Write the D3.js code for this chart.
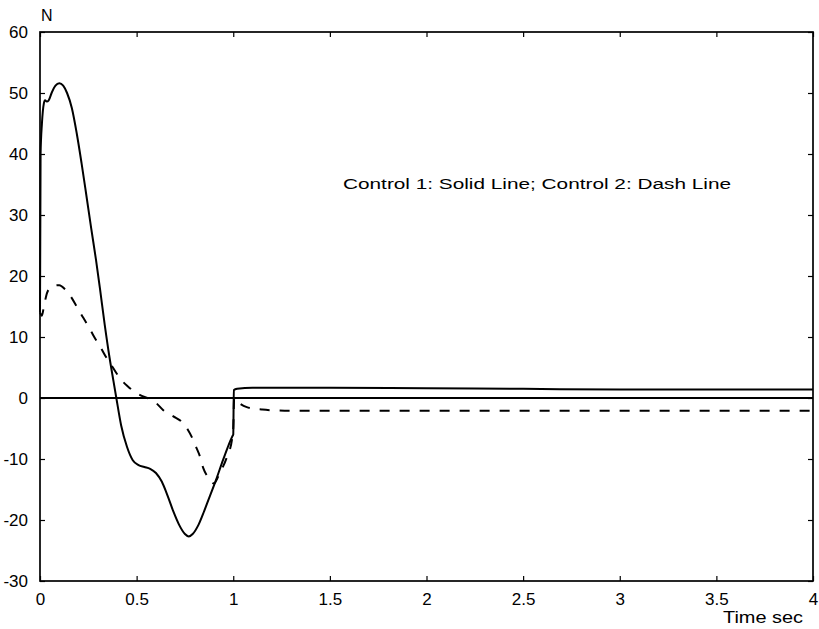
<!DOCTYPE html>
<html><head><meta charset="utf-8">
<script src="https://cdn.jsdelivr.net/npm/d3@7"></script>
<style>body{margin:0;background:#fff}svg{display:block}text{font-family:"Liberation Sans",Arial,sans-serif;fill:#000}</style>
</head><body><svg id="c" width="819" height="629"></svg>
<script>
const xTicks = [0,0.5,1,1.5,2,2.5,3,3.5,4];
const xTickLabels = ["0","0.5","1","1.5","2","2.5","3","3.5","4"];
const yTicks = [-30,-20,-10,0,10,20,30,40,50,60];
const yTickLabels = ["-30","-20","-10","0","10","20","30","40","50","60"];
const solidT = [0,0.003,0.01,0.02,0.026,0.035,0.045,0.06,0.08,0.1,0.12,0.14,0.165,0.19,0.215,0.24,0.265,0.29,0.31,0.335,0.36,0.38,0.395,0.42,0.45,0.48,0.51,0.54,0.57,0.6,0.63,0.66,0.69,0.72,0.75,0.77,0.79,0.82,0.85,0.88,0.91,0.94,0.97,0.995,1.0,1.003,1.02,1.1,1.5,2,2.5,3,3.5,4];
const solidV = [14,40,45,48.3,48.8,48.6,48.8,50,51.2,51.6,51.2,50,47.5,43.4,38.5,33.2,27.8,22.6,18,12,6.6,2.8,0,-4.5,-8,-10.2,-11,-11.3,-11.6,-12.3,-13.7,-16,-18.6,-20.8,-22.3,-22.7,-22.3,-20.8,-18.5,-16,-13.5,-10.8,-8.2,-6.3,-6,1.3,1.5,1.7,1.7,1.6,1.5,1.4,1.4,1.4];
const dashT = [0,0.01,0.02,0.04,0.07,0.1,0.13,0.16,0.19,0.21,0.24,0.265,0.29,0.317,0.34,0.369,0.395,0.42,0.455,0.49,0.53,0.57,0.6,0.638,0.69,0.733,0.765,0.793,0.81,0.828,0.845,0.87,0.9,0.93,0.966,0.995,1.0,1.005,1.03,1.07,1.15,1.3,2,3,4];
const dashV = [14,13.5,15,17.5,18.4,18.5,17.8,16.6,15,13.9,12.3,10.9,9.5,8.1,6.8,5.4,4.1,3,1.9,1.0,0.3,-0.2,-0.8,-2,-3,-3.9,-5.2,-6.9,-8.2,-9.6,-11.5,-13,-14,-12.3,-9.8,-6.5,-5,0,-0.8,-1.5,-1.9,-2.1,-2.1,-2.1,-2.1];
const annotation = "Control 1: Solid Line; Control 2: Dash Line";
const xTitle = "Time sec";
const yTitle = "N";

const L=40,R=813,T=32,B=581;
const svg=d3.select("#c");
const x=d3.scaleLinear().domain([0,4]).range([L,R]);
const y=d3.scaleLinear().domain([-30,60]).range([B,T]);

const fs=17;
svg.append("g").attr("transform",`translate(0,${B})`)
  .call(d3.axisBottom(x).tickValues(xTicks).tickSize(-5).tickFormat((d,i)=>xTickLabels[i]).tickPadding(12))
  .call(g=>{g.select(".domain").remove();g.selectAll("text").attr("font-size",fs).attr("font-family",null);});
svg.append("g").attr("transform",`translate(0,${T})`)
  .call(d3.axisTop(x).tickValues(xTicks).tickSize(-5).tickFormat(""))
  .call(g=>g.select(".domain").remove());
svg.append("g").attr("transform",`translate(${L},0)`)
  .call(d3.axisLeft(y).tickValues(yTicks).tickSize(-5).tickFormat((d,i)=>yTickLabels[i]).tickPadding(12))
  .call(g=>{g.select(".domain").remove();g.selectAll("text").attr("font-size",fs).attr("font-family",null);});
svg.append("g").attr("transform",`translate(${R},0)`)
  .call(d3.axisRight(y).tickValues(yTicks).tickSize(-5).tickFormat(""))
  .call(g=>g.select(".domain").remove());
svg.selectAll(".tick line").attr("stroke","#000").attr("stroke-width",1.2);

svg.append("rect").attr("x",L).attr("y",T).attr("width",R-L).attr("height",B-T)
  .attr("fill","none").attr("stroke","#000").attr("stroke-width",1.7);

svg.append("line").attr("x1",x(0)).attr("x2",x(4)).attr("y1",y(0)).attr("y2",y(0))
  .attr("stroke","#000").attr("stroke-width",1.8);

const line=d3.line().x(d=>x(d[0])).y(d=>y(d[1])).curve(d3.curveMonotoneX);
svg.append("path").datum(solidT.map((t,i)=>[t,solidV[i]]))
  .attr("d",line).attr("fill","none").attr("stroke","#000").attr("stroke-width",2);
svg.append("path").datum(dashT.map((t,i)=>[t,dashV[i]]))
  .attr("d",line).attr("fill","none").attr("stroke","#000").attr("stroke-width",2)
  .attr("stroke-dasharray","10,10");

svg.append("text").attr("x",343).attr("y",189).attr("font-size",15.5)
  .attr("textLength",388).attr("lengthAdjust","spacingAndGlyphs").text(annotation);
svg.append("text").attr("x",723).attr("y",623).attr("font-size",17)
  .attr("textLength",80).attr("lengthAdjust","spacingAndGlyphs").text(xTitle);
svg.append("text").attr("x",41).attr("y",21).attr("font-size",16).text(yTitle);
</script></body></html>
